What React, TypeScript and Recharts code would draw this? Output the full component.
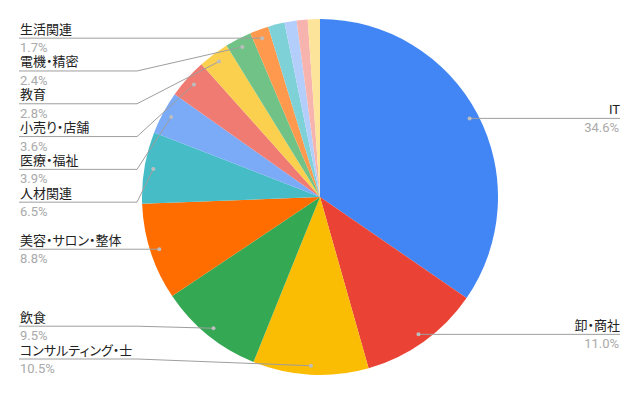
import { PieChart, Pie, Cell } from "recharts";

const categories = [
  "IT",
  "卸・商社",
  "コンサルティング・士",
  "飲食",
  "美容・サロン・整体",
  "人材関連",
  "医療・福祉",
  "小売り・店舗",
  "教育",
  "電機・精密",
  "生活関連",
  "その他1",
  "その他2",
  "その他3",
  "その他4",
];
const shares = [34.6, 11.0, 10.5, 9.5, 8.8, 6.5, 3.9, 3.6, 2.8, 2.4, 1.7, 1.5, 1.1, 1.0, 1.1];
const colors = [
  "#4285F4", "#EA4335", "#FBBC04", "#34A853", "#FF6D01",
  "#46BDC6", "#7BAAF7", "#F07B72", "#FCD04F", "#71C287",
  "#FF994D", "#7ED1D7", "#B3CEFB", "#F7B4AE", "#FDE49B",
];

const data = categories.map((name, i) => ({ name, value: shares[i] }));

const W = 640;
const H = 396;
const CX = 320;
const CY = 197;
const R = 178;
const DOT_INSET = 9;
const MIN_LABEL_SHARE = 1.6;
const LEFT_X = 19;
const ELBOW_X = 137;
const RIGHT_X = 620;
const GAP = 32.8;
const TOP_Y = 36;
const BOTTOM_Y = 359;
const RAD = Math.PI / 180;
const FONT = "Roboto, 'Noto Sans CJK JP', sans-serif";
const textStyle = { fontFeatureSettings: "'palt'" };

// stack the label rows so they don't collide (left side only, right side has room)
function layoutLabels() {
  const total = shares.reduce((a, b) => a + b, 0);
  let cum = 0;
  const items: { i: number; x: number; y: number }[] = [];
  shares.forEach((v, i) => {
    const mid = 90 - ((cum + v / 2) / total) * 360;
    cum += v;
    if (v < MIN_LABEL_SHARE) return;
    const r = R - DOT_INSET;
    items.push({ i, x: CX + r * Math.cos(mid * RAD), y: CY - r * Math.sin(mid * RAD) });
  });
  const ys: Record<number, number> = {};
  const left = items.filter((d) => d.x < CX).sort((a, b) => a.y - b.y);
  let prev = -Infinity;
  left.forEach((d) => {
    const y = Math.max(d.y, prev + GAP, TOP_Y);
    ys[d.i] = y;
    prev = y;
  });
  let next = Infinity;
  for (let k = left.length - 1; k >= 0; k--) {
    const d = left[k];
    const y = Math.min(ys[d.i], next - GAP, BOTTOM_Y);
    ys[d.i] = y;
    next = y;
  }
  items.filter((d) => d.x >= CX).forEach((d) => (ys[d.i] = d.y));
  return ys;
}

const labelY = layoutLabels();

function renderLabel(props: any) {
  const { cx, cy, midAngle, outerRadius, index, value, name } = props;
  if (value < MIN_LABEL_SHARE) return null;
  const r = outerRadius - DOT_INSET;
  const dx = cx + r * Math.cos(-midAngle * RAD);
  const dy = cy + r * Math.sin(-midAngle * RAD);
  const ly = labelY[index];
  const isLeft = dx < cx;
  const pct = `${Number(value).toFixed(1)}%`;

  if (isLeft) {
    return (
      <g key={`lbl-${index}`}>
        <polyline
          points={`${LEFT_X},${ly} ${ELBOW_X},${ly} ${dx},${dy}`}
          fill="none"
          stroke="#9e9e9e"
          strokeWidth={1}
        />
        <circle cx={dx} cy={dy} r={2} fill="#bdbdbd" />
        <text x={LEFT_X + 1} y={ly - 4.5} fontSize={13} fill="#222" fontFamily={FONT} style={textStyle}>
          {name}
        </text>
        <text x={LEFT_X + 1} y={ly + 14} fontSize={13} fill="#aaa" fontFamily={FONT}>
          {pct}
        </text>
      </g>
    );
  }
  return (
    <g key={`lbl-${index}`}>
      <line x1={dx} y1={dy} x2={RIGHT_X} y2={ly} stroke="#9e9e9e" strokeWidth={1} />
      <circle cx={dx} cy={dy} r={2} fill="#bdbdbd" />
      <text x={RIGHT_X} y={ly - 4.5} fontSize={13} fill="#222" textAnchor="end" fontFamily={FONT} style={textStyle}>
        {name}
      </text>
      <text x={RIGHT_X - 1} y={ly + 14} fontSize={13} fill="#aaa" textAnchor="end" fontFamily={FONT}>
        {pct}
      </text>
    </g>
  );
}

export default function App() {
  return (
    <div style={{ position: "absolute", left: 0, top: 0, width: W, height: H, background: "#fff" }}>
      <PieChart width={W} height={H} margin={{ top: 0, right: 0, bottom: 0, left: 0 }}>
        <Pie
          data={data}
          dataKey="value"
          nameKey="name"
          cx={CX}
          cy={CY}
          outerRadius={R}
          startAngle={90}
          endAngle={-270}
          stroke="none"
          label={renderLabel}
          labelLine={false}
          isAnimationActive={false}
        >
          {data.map((d, i) => (
            <Cell key={d.name} fill={colors[i]} />
          ))}
        </Pie>
      </PieChart>
    </div>
  );
}
